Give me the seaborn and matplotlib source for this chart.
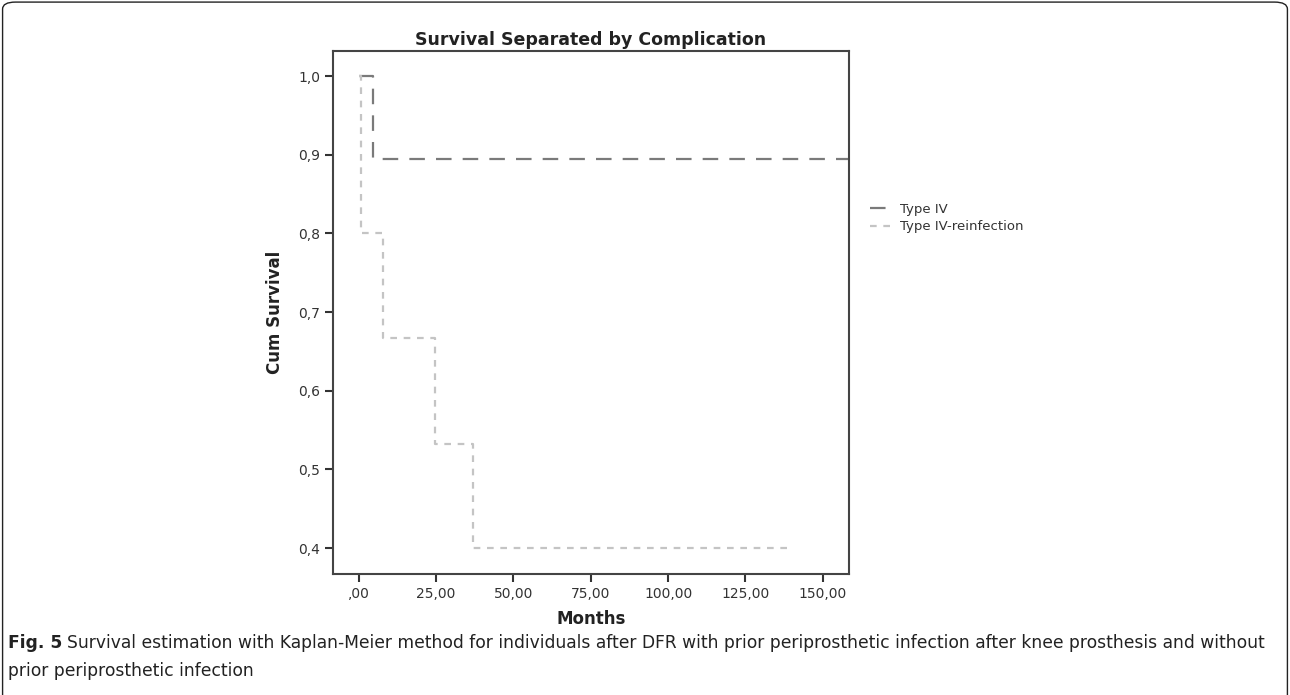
import numpy as np
import pandas as pd
import matplotlib
matplotlib.use("Agg")
import matplotlib.pyplot as plt
import seaborn as sns
from matplotlib.patches import FancyBboxPatch
from matplotlib.ticker import FuncFormatter

# Kaplan-Meier step values
type4_months = [0.0, 4.5, 158.0]
type4_surv = [1.0, 0.895, 0.895]

reinf_months = [0.0, 0.55, 7.7, 24.5, 37.0, 139.0]
reinf_surv = [1.0, 0.8, 0.667, 0.533, 0.4, 0.4]

series_names = ["Type IV", "Type IV-reinfection"]
x_ticks = [0, 25, 50, 75, 100, 125, 150]
y_ticks = [0.4, 0.5, 0.6, 0.7, 0.8, 0.9, 1.0]

sns.set_style("white")
plt.rcParams["font.family"] = ["DejaVu Sans"]

fig = plt.figure(figsize=(12.9, 6.95), dpi=100)
ax = fig.add_axes([0.258, 0.174, 0.400, 0.7526])

df4 = pd.DataFrame({"Months": type4_months, "Survival": type4_surv})
dfr = pd.DataFrame({"Months": reinf_months, "Survival": reinf_surv})

sns.lineplot(data=df4, x="Months", y="Survival", ax=ax, color="#7a7a7a",
             linewidth=1.6, drawstyle="steps-post", linestyle=(0, (7, 5)),
             label=series_names[0], estimator=None, sort=False)
sns.lineplot(data=dfr, x="Months", y="Survival", ax=ax, color="#c4c4c4",
             linewidth=1.6, drawstyle="steps-post", linestyle=(0, (3, 3)),
             label=series_names[1], estimator=None, sort=False)

ax.set_xlim(-8.4, 158.4)
ax.set_ylim(0.367, 1.032)
ax.set_xticks(x_ticks)
ax.set_yticks(y_ticks)


def fmt_x(v, p):
    s = f"{v:.2f}".replace(".", ",")
    return s[1:] if s.startswith("0") else s


ax.xaxis.set_major_formatter(FuncFormatter(fmt_x))
ax.yaxis.set_major_formatter(FuncFormatter(lambda v, p: f"{v:.1f}".replace(".", ",")))
ax.tick_params(axis="both", which="major", direction="out", length=6, width=1.5,
               color="#333333", labelsize=10, labelcolor="#333333", pad=3,
               bottom=True, left=True)
for s in ax.spines.values():
    s.set_color("#444444")
    s.set_linewidth(1.5)

ax.set_title("Survival Separated by Complication", fontsize=12.5,
             fontweight="bold", color="#222222", pad=4)
ax.set_xlabel("Months", fontsize=12, fontweight="bold", color="#222222", labelpad=7)
ax.set_ylabel("Cum Survival", fontsize=12, fontweight="bold", color="#222222", labelpad=10)

leg = ax.legend(loc="upper left", bbox_to_anchor=(1.03, 0.72), frameon=False,
                fontsize=9.5, handlelength=2.0, handletextpad=0.3,
                labelspacing=0.35, borderaxespad=0)
for t in leg.get_texts():
    t.set_color("#333333")

# caption below the chart
cap_y1 = 1 - 643 / 695
cap_y2 = 1 - 671 / 695
fig_lbl = fig.text(8 / 1290, cap_y1, "Fig. 5", fontsize=12.3, fontweight="bold",
                   color="#222222", va="center")
fig.canvas.draw()
bb = fig_lbl.get_window_extent().transformed(fig.transFigure.inverted())
fig.text(bb.x1 + 5 / 1290, cap_y1,
         "Survival estimation with Kaplan-Meier method for individuals after DFR with prior "
         "periprosthetic infection after knee prosthesis and without",
         fontsize=12.3, color="#222222", va="center")
fig.text(8 / 1290, cap_y2, "prior periprosthetic infection",
         fontsize=12.3, color="#222222", va="center")

# rounded frame around the figure panel
frame = FancyBboxPatch((0.002, -0.1), 0.996, 1.097, boxstyle="round,pad=0,rounding_size=0.01",
                       transform=fig.transFigure, fill=False, edgecolor="#222222",
                       linewidth=1.0, clip_on=False)
fig.patches.append(frame)

fig.savefig("out.png", dpi=100)
